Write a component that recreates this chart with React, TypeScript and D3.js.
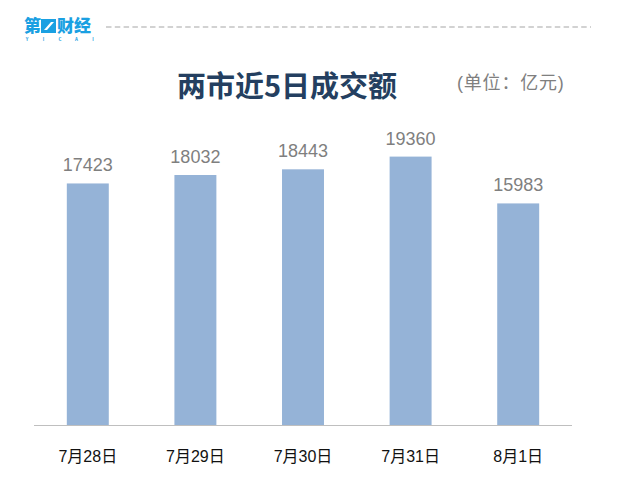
import React from "react";
import * as d3 from "d3";

const categories = ["7月28日", "7月29日", "7月30日", "7月31日", "8月1日"];
const volumes = [17423, 18032, 18443, 19360, 15983];
const logoLetters = ["Y", "I", "C", "A", "I"];

const W = 634;
const H = 495;
const PLOT = { left: 34, right: 572, top: 120, bottom: 425 };
const CJK = "'Liberation Sans', 'Noto Sans CJK SC', sans-serif";
const LOGO_BLUE = "#1aa0e2";

export default function App() {
  const x = d3
    .scaleBand<string>()
    .domain(categories)
    .range([PLOT.left, PLOT.right])
    .paddingInner(0.61)
    .paddingOuter(0.305);

  const y = d3.scaleLinear().domain([0, 22000]).range([PLOT.bottom, PLOT.top]);

  // small letters under the logo
  const lx = d3.scalePoint<number>().domain(d3.range(logoLetters.length)).range([27, 93]);

  return (
    <div style={{ position: "absolute", left: 0, top: 0 }}>
      <svg width={W} height={H} style={{ display: "block", background: "#fff" }}>
        {/* logo */}
        <g fontFamily="'Noto Sans CJK SC', sans-serif" fontWeight={900} fill={LOGO_BLUE}>
          <text x={24} y={32} fontSize={17}>第</text>
          <rect x={41} y={19} width={15} height={14} fill={LOGO_BLUE} />
          <polygon points="44,30 51,22 54,22 47,30" fill="#fff" />
          <text x={57} y={32} fontSize={17}>财经</text>
          {logoLetters.map((l, i) => (
            <text key={i} x={lx(i)} y={41} fontSize={4.5} textAnchor="middle" fontWeight={700}>
              {l}
            </text>
          ))}
        </g>
        <line x1={106} x2={591} y1={27} y2={27} stroke="#c4c4c4" strokeWidth={1.3} strokeDasharray="5.5,3.3" />

        {/* title */}
        <text
          x={287}
          y={97}
          textAnchor="middle"
          fontFamily="'Noto Sans CJK SC', sans-serif"
          fontWeight={700}
          fontSize={29}
          fill="#243f60"
        >
          两市近5日成交额
        </text>
        <text x={457} y={89} fontFamily={CJK} fontSize={18} letterSpacing={0.8} fill="#7f7f7f">
          (单位：亿元)
        </text>

        {/* bars */}
        {volumes.map((v, i) => (
          <g key={categories[i]}>
            <rect
              x={x(categories[i])}
              y={y(v)}
              width={x.bandwidth()}
              height={y(0) - y(v)}
              fill="#95b3d7"
            />
            <text
              x={(x(categories[i]) ?? 0) + x.bandwidth() / 2}
              y={y(v) - 12}
              textAnchor="middle"
              fontFamily={CJK}
              fontSize={18}
              fill="#7f7f7f"
            >
              {v}
            </text>
          </g>
        ))}

        {/* axis */}
        <line x1={PLOT.left} x2={PLOT.right} y1={PLOT.bottom + 0.5} y2={PLOT.bottom + 0.5} stroke="#bfbfbf" strokeWidth={1} />
        {categories.map((c) => (
          <text
            key={c}
            x={(x(c) ?? 0) + x.bandwidth() / 2}
            y={462}
            textAnchor="middle"
            fontFamily={CJK}
            fontSize={16}
            fill="#111"
          >
            {c}
          </text>
        ))}
      </svg>
    </div>
  );
}
